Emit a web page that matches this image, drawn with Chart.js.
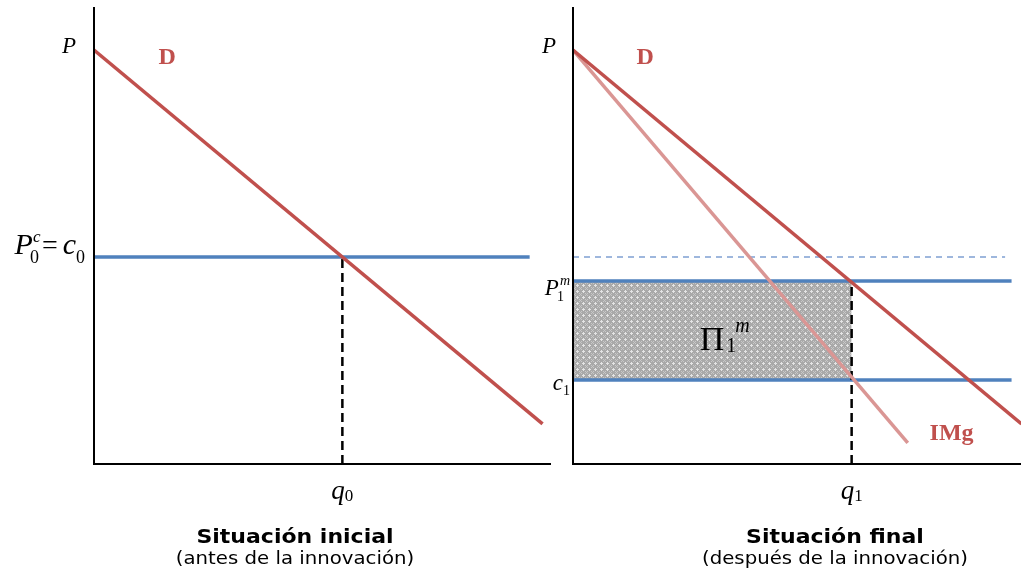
<!DOCTYPE html>
<html>
<head>
<meta charset="utf-8">
<script src="https://cdn.jsdelivr.net/npm/chart.js@4"></script>
<style>
  body { margin: 0; background: #fff; width: 1021px; height: 577px; overflow: hidden; position: relative; }
  canvas { position: absolute; top: 0; }
  .title { position: absolute; font-family: "DejaVu Sans", Verdana, sans-serif; text-align: center; color: #000; width: 360px; }
  .title b { font-size: 20px; line-height: 20px; display: block; transform: scaleX(1.1); }
  .title span { font-size: 17px; line-height: 20px; display: block; margin-top: 2px; transform: scaleX(1.16); }
</style>
</head>
<body>
<canvas id="left" width="560" height="577" style="left:0"></canvas>
<canvas id="right" width="501" height="577" style="left:520px"></canvas>
<div class="title" style="left:115px; top:526px"><b>Situación inicial</b><span>(antes de la innovación)</span></div>
<div class="title" style="left:655px; top:526px"><b>Situación final</b><span>(después de la innovación)</span></div>
<script>
// valores del gráfico (unidades económicas)
const pMax = 11.04;
const qMaxLeft = 9.2;
const qMaxRight = 9.02;

const demand = [{x: 0, y: 10}, {x: 9.03, y: 0.97}];
const cost0 = [{x: 0, y: 5}, {x: 8.77, y: 5}];
const q0Line = [{x: 5, y: 0}, {x: 5, y: 5}];

const img = [{x: 0, y: 10}, {x: 6.74, y: 0.51}];
const oldCost = [{x: 0, y: 5}, {x: 8.7, y: 5}];
const priceM = [{x: 0, y: 4.42}, {x: 8.83, y: 4.42}];
const cost1 = [{x: 0, y: 2.03}, {x: 8.83, y: 2.03}];
const q1Line = [{x: 5.61, y: 0}, {x: 5.61, y: 4.42}];
const profit = [{x: 0, y: 4.42}, {x: 5.61, y: 4.42}];

const red = '#C0504D';
const pink = '#DA9694';
const blue = '#4F81BD';
const serif = '"Liberation Serif", "Times New Roman", serif';

// trama gris del beneficio
function makePattern() {
    const c = document.createElement('canvas');
    c.width = 6; c.height = 6;
    const g = c.getContext('2d');
    g.fillStyle = '#a9a9a9';
    g.fillRect(0, 0, 6, 6);
    g.fillStyle = '#e4e4e4';
    g.fillRect(2, 3, 3, 1);
    g.fillRect(3, 2, 1, 3);
    g.fillStyle = '#c8c8c8';
    g.fillRect(0, 0, 1, 1);
    g.fillRect(1, 1, 1, 1);
    g.fillRect(5, 5, 1, 1);
    g.fillRect(5, 1, 1, 1);
    g.fillRect(1, 5, 1, 1);
    return g.createPattern(c, 'repeat');
}

// texto con subíndices / superíndices
function mathText(ctx, x, y, pieces, align) {
    let w = 0, cx = 0;
    const pos = [];
    pieces.forEach(p => {
        ctx.font = p.font;
        const pw = ctx.measureText(p.t).width;
        const px = p.stack ? pos[pos.length - 1].x + (p.dx || 0) : cx + (p.dx || 0);
        pos.push({x: px, w: pw});
        if (!p.stack) cx = px + pw;
        w = Math.max(w, px + pw);
    });
    let start = x;
    if (align === 'right') start = x - w;
    if (align === 'center') start = x - w / 2;
    ctx.textBaseline = 'alphabetic';
    ctx.textAlign = 'left';
    pieces.forEach((p, i) => {
        ctx.font = p.font;
        ctx.fillStyle = p.color || '#000';
        ctx.fillText(p.t, start + pos[i].x, y + (p.dy || 0));
    });
}

function line(data, color, width, dash) {
    return {
        data: data,
        showLine: true,
        borderColor: color,
        borderWidth: width,
        borderDash: dash || [],
        pointRadius: 0,
        fill: false,
        borderCapStyle: 'butt'
    };
}

// ejes y etiquetas
function axesPlugin(drawLabels) {
    return {
        id: 'axes',
        afterDatasetsDraw(chart) {
            const ctx = chart.ctx;
            const a = chart.chartArea;
            ctx.save();
            ctx.strokeStyle = '#000';
            ctx.lineWidth = 2;
            ctx.beginPath();
            ctx.moveTo(a.left, a.top);
            ctx.lineTo(a.left, a.bottom);
            ctx.lineTo(a.right, a.bottom);
            ctx.stroke();
            drawLabels(chart, ctx);
            ctx.restore();
        }
    };
}

// Chart.js pinta el primer dataset encima: se invierte la lista
function makeChart(id, qMax, pad, datasets, drawLabels) {
    return new Chart(document.getElementById(id), {
        type: 'scatter',
        data: {datasets: datasets.slice().reverse()},
        options: {
            responsive: false,
            animation: false,
            devicePixelRatio: 1,
            layout: {padding: pad},
            scales: {
                x: {type: 'linear', min: 0, max: qMax, display: false},
                y: {type: 'linear', min: 0, max: pMax, display: false}
            },
            plugins: {
                legend: {display: false},
                tooltip: {enabled: false}
            }
        },
        plugins: [axesPlugin(drawLabels)]
    });
}

// 1. Situación inicial
makeChart('left', qMaxLeft, {left: 94, right: 9, top: 7, bottom: 113}, [
    line(cost0, blue, 3.5),
    line(q0Line, '#000', 2.5, [9, 5]),
    line(demand, red, 3.5)
], function(chart, ctx) {
    const x = chart.scales.x, y = chart.scales.y, a = chart.chartArea;
    mathText(ctx, a.left - 32, y.getPixelForValue(10) + 3, [{t: 'P', font: 'italic 23px ' + serif}], 'left');
    mathText(ctx, x.getPixelForValue(1.5) - 10, y.getPixelForValue(9.83) + 7,
        [{t: 'D', font: 'bold 24px ' + serif, color: red}], 'left');
    const yc = y.getPixelForValue(5);
    mathText(ctx, a.left - 9, yc - 3, [
        {t: 'P', font: 'italic 30px ' + serif},
        {t: '0', font: '18px ' + serif, dy: 9, dx: -3},
        {t: 'c', font: 'italic 17px ' + serif, stack: true, dy: -12, dx: 3},
        {t: ' = ', font: '28px ' + serif, dx: -4},
        {t: 'c', font: 'italic 30px ' + serif, dx: -2},
        {t: '0', font: '18px ' + serif, dy: 9}
    ], 'right');
    mathText(ctx, x.getPixelForValue(5), a.bottom + 35, [
        {t: 'q', font: 'italic 27px ' + serif},
        {t: '0', font: '17px ' + serif, dy: 2}
    ], 'center');
});

// 2. Situación final
makeChart('right', qMaxRight, {left: 53, right: 0, top: 7, bottom: 113}, [
    Object.assign(line(profit, 'rgba(0,0,0,0)', 0), {fill: {value: 2.03}, backgroundColor: makePattern()}),
    line(oldCost, '#7FA0D2', 1.5, [6, 5]),
    line(priceM, blue, 3.5),
    line(cost1, blue, 3.5),
    line(q1Line, '#000', 2.5, [9, 5]),
    line(img, pink, 3.5),
    line(demand, red, 3.5)
], function(chart, ctx) {
    const x = chart.scales.x, y = chart.scales.y, a = chart.chartArea;
    mathText(ctx, a.left - 31, y.getPixelForValue(10) + 3, [{t: 'P', font: 'italic 23px ' + serif}], 'left');
    mathText(ctx, x.getPixelForValue(1.5) - 11, y.getPixelForValue(9.83) + 7,
        [{t: 'D', font: 'bold 24px ' + serif, color: red}], 'left');
    mathText(ctx, a.left - 3, y.getPixelForValue(4.42) + 14, [
        {t: 'P', font: 'italic 23px ' + serif},
        {t: '1', font: '14px ' + serif, dy: 6, dx: -2},
        {t: 'm', font: 'italic 14px ' + serif, stack: true, dy: -10, dx: 3}
    ], 'right');
    mathText(ctx, a.left - 3, y.getPixelForValue(2.03) + 10, [
        {t: 'c', font: 'italic 23px ' + serif},
        {t: '1', font: '14px ' + serif, dy: 5}
    ], 'right');
    mathText(ctx, x.getPixelForValue(2.55), y.getPixelForValue(2.75), [
        {t: 'Π', font: '34px ' + serif},
        {t: '1', font: '20px ' + serif, dy: 2, dx: 2},
        {t: 'm', font: 'italic 20px ' + serif, stack: true, dy: -18, dx: 9}
    ], 'left');
    mathText(ctx, x.getPixelForValue(7.18), y.getPixelForValue(0.72) + 6,
        [{t: 'IMg', font: 'bold 24px ' + serif, color: red}], 'left');
    mathText(ctx, x.getPixelForValue(5.61), a.bottom + 35, [
        {t: 'q', font: 'italic 27px ' + serif},
        {t: '1', font: '17px ' + serif, dy: 2}
    ], 'center');
});
</script>
</body>
</html>
